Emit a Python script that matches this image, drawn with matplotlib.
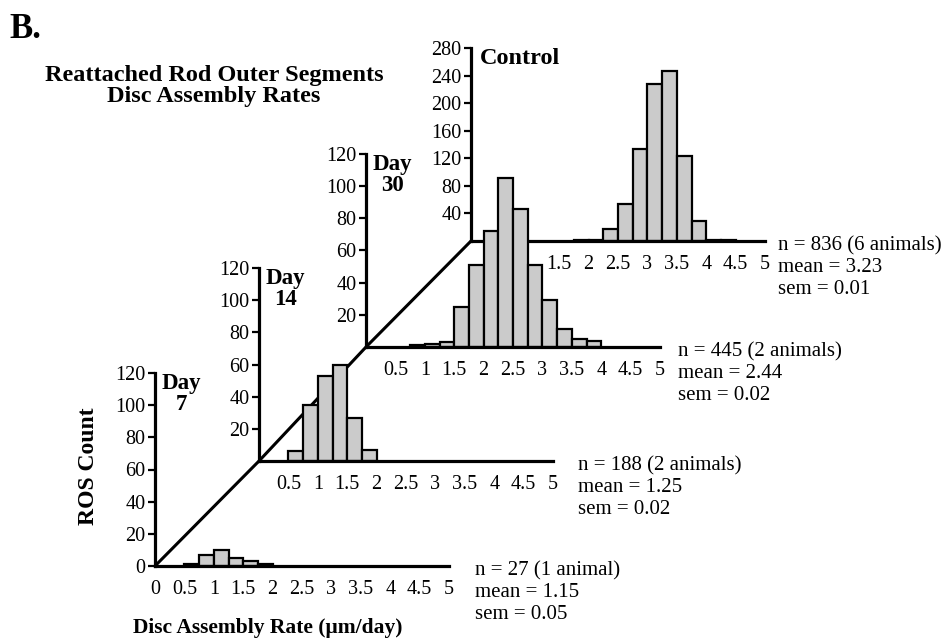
import numpy as np
import matplotlib
matplotlib.use('Agg')
import matplotlib.pyplot as plt

plt.rcParams['font.family'] = ['Liberation Serif', 'DejaVu Serif']

# histogram data: left edge of each 0.25 bin and the ROS count in it
bin_width = 0.25

day7_bins = [0.5, 0.75, 1.0, 1.25, 1.5, 1.75]
day7_counts = [1, 7, 10, 5, 3, 1]

day14_bins = [0.5, 0.75, 1.0, 1.25, 1.5, 1.75]
day14_counts = [6, 35, 53, 60, 27, 7]

day30_bins = [0.75, 1.0, 1.25, 1.5, 1.75, 2.0, 2.25, 2.5, 2.75, 3.0, 3.25, 3.5, 3.75]
day30_counts = [1, 2, 3, 25, 51, 72, 105, 86, 51, 29, 11, 5, 4]

ctrl_bins = [1.75, 2.0, 2.25, 2.5, 2.75, 3.0, 3.25, 3.5, 3.75, 4.0, 4.25]
ctrl_counts = [1, 1, 18, 53, 134, 228, 246, 124, 29, 1, 1]

# tick labels
day7_xticks = [0, 0.5, 1, 1.5, 2, 2.5, 3, 3.5, 4, 4.5, 5]
day14_xticks = [0.5, 1, 1.5, 2, 2.5, 3, 3.5, 4, 4.5, 5]
day30_xticks = [0.5, 1, 1.5, 2, 2.5, 3, 3.5, 4, 4.5, 5]
ctrl_xticks = [1.5, 2, 2.5, 3, 3.5, 4, 4.5, 5]

day7_yticks = [0, 20, 40, 60, 80, 100, 120]
day14_yticks = [20, 40, 60, 80, 100, 120]
day30_yticks = [20, 40, 60, 80, 100, 120]
ctrl_yticks = [40, 80, 120, 160, 200, 240, 280]

names = ['Day\n7', 'Day\n14', 'Day\n30', 'Control']
stats = ['n = 27 (1 animal)\nmean = 1.15\nsem = 0.05',
         'n = 188 (2 animals)\nmean = 1.25\nsem = 0.02',
         'n = 445 (2 animals)\nmean = 2.44\nsem = 0.02',
         'n = 836 (6 animals)\nmean = 3.23\nsem = 0.01']

# layout in pixels (origin of each panel, measured from top-left)
W, H = 946, 639
origin_x = [155, 259, 366, 471]
origin_y = [566, 461, 347, 241]
stats_x = [475, 578, 678, 778]
panel_w, panel_h = 294, 193

fig = plt.figure(figsize=(W / 100, H / 100), dpi=100)

# diagonal joining the panel origins
bg = fig.add_axes([0, 0, 1, 1])
bg.set_zorder(0)
bg.axis('off')
bg.set_xlim(0, W)
bg.set_ylim(H, 0)
bg.plot(origin_x, origin_y, color='black', lw=2.2, solid_capstyle='butt')

panels = [(day7_bins, day7_counts, day7_xticks, day7_yticks, 120),
          (day14_bins, day14_counts, day14_xticks, day14_yticks, 120),
          (day30_bins, day30_counts, day30_xticks, day30_yticks, 120),
          (ctrl_bins, ctrl_counts, ctrl_xticks, ctrl_yticks, 280)]

for i, (bins, counts, xt, yt, ymax) in enumerate(panels):
    ax = fig.add_axes([origin_x[i] / W, 1 - origin_y[i] / H, panel_w / W, panel_h / H])
    ax.set_zorder(10 - i)
    ax.patch.set_visible(False)
    ax.bar(bins, counts, width=bin_width, align='edge', color='#cbcbcb',
           edgecolor='black', linewidth=1.6)
    ax.set_xlim(0, 5)
    ax.set_ylim(0, ymax)
    for s in ['top', 'right']:
        ax.spines[s].set_visible(False)
    for s in ['left', 'bottom']:
        ax.spines[s].set_linewidth(2.3)
    ax.set_xticks(xt)
    ax.set_xticklabels(['%g' % v for v in xt])
    ax.set_yticks(yt)
    ax.tick_params(axis='x', length=0, pad=10, labelsize=14.5)
    ax.tick_params(axis='y', length=5, width=1.6, pad=2, labelsize=14.5)
    if i < 3:
        ax.text(7 / panel_w, 1.0, names[i], transform=ax.transAxes, ha='left', va='top',
                fontsize=16.5, fontweight='bold', multialignment='center', linespacing=1.0)
    else:
        ax.text(9 / panel_w, 1.0, names[i], transform=ax.transAxes, ha='left', va='top',
                fontsize=17.5, fontweight='bold')
    fig.text(stats_x[i] / W, 1 - (origin_y[i] - 5) / H, stats[i], ha='left', va='top',
             fontsize=15, linespacing=1.2)

fig.text(9 / W, 1 - 29 / H, 'B.', fontsize=25, fontweight='bold', va='center')
fig.text(214 / W, 1 - 86 / H, 'Reattached Rod Outer Segments\nDisc Assembly Rates',
         ha='center', va='center', fontsize=17.5, fontweight='bold', linespacing=0.95)
fig.text(88 / W, 1 - 466 / H, 'ROS Count', rotation=90, ha='center', va='center',
         fontsize=17, fontweight='bold')
fig.text(268 / W, 1 - 628 / H, 'Disc Assembly Rate (μm/day)', ha='center', va='center',
         fontsize=15.5, fontweight='bold')

fig.savefig('out.png', dpi=100)
